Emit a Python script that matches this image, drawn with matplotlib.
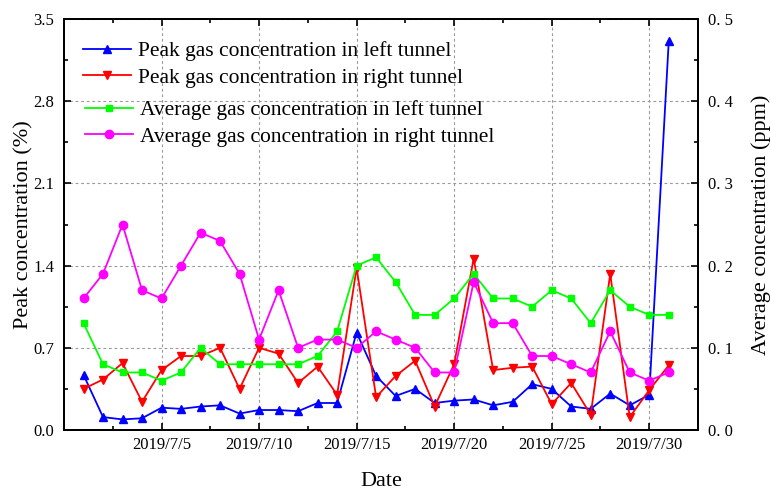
import matplotlib
matplotlib.use("Agg")
import matplotlib.pyplot as plt
import numpy as np
import pandas as pd

dates = pd.date_range("2019-07-01", "2019-07-31", freq="D")

peak_left = [0.47, 0.11, 0.09, 0.10, 0.19, 0.18, 0.20, 0.21, 0.14, 0.17, 0.17, 0.16,
             0.23, 0.23, 0.83, 0.46, 0.29, 0.35, 0.23, 0.25, 0.26, 0.21, 0.24, 0.39,
             0.35, 0.20, 0.18, 0.31, 0.21, 0.30, 3.31]
peak_right = [0.35, 0.43, 0.57, 0.24, 0.51, 0.63, 0.63, 0.70, 0.35, 0.70, 0.65, 0.40,
              0.54, 0.30, 1.38, 0.28, 0.46, 0.59, 0.20, 0.56, 1.46, 0.51, 0.53, 0.54,
              0.22, 0.40, 0.13, 1.33, 0.11, 0.34, 0.55]
avg_left = [0.13, 0.08, 0.07, 0.07, 0.06, 0.07, 0.10, 0.08, 0.08, 0.08, 0.08, 0.08,
            0.09, 0.12, 0.20, 0.21, 0.18, 0.14, 0.14, 0.16, 0.19, 0.16, 0.16, 0.15,
            0.17, 0.16, 0.13, 0.17, 0.15, 0.14, 0.14]
avg_right = [0.16, 0.19, 0.25, 0.17, 0.16, 0.20, 0.24, 0.23, 0.19, 0.11, 0.17, 0.10,
             0.11, 0.11, 0.10, 0.12, 0.11, 0.10, 0.07, 0.07, 0.18, 0.13, 0.13, 0.09,
             0.09, 0.08, 0.07, 0.12, 0.07, 0.06, 0.07]

left_ticks = [0.0, 0.7, 1.4, 2.1, 2.8, 3.5]
right_ticks = [0.0, 0.1, 0.2, 0.3, 0.4, 0.5]
tick_days = [5, 10, 15, 20, 25, 30]

plt.rcParams['font.family'] = ['Liberation Serif', 'DejaVu Serif']

fig = plt.figure(figsize=(7.71, 4.93), dpi=100)
ax = fig.add_axes([64/771, 1-430/493, (698-64)/771, (430-19)/493])
ax2 = ax.twinx()

lw = 1.3
ms = 6
h1, = ax.plot(dates, peak_left, color='#0000FF', marker='^', lw=lw, ms=ms,
              label='Peak gas concentration in left tunnel')
h2, = ax.plot(dates, peak_right, color='#FF0000', marker='v', lw=lw, ms=ms,
              label='Peak gas concentration in right tunnel')
h3, = ax2.plot(dates, avg_left, color='#00FF00', marker='s', lw=lw, ms=ms-1,
               label='Average gas concentration in left tunnel')
h4, = ax2.plot(dates, avg_right, color='#FF00FF', marker='o', lw=lw, ms=ms,
               label='Average gas concentration in right tunnel')

ax.set_ylim(0, 3.5)
ax2.set_ylim(0, 0.5)
ax.set_yticks(left_ticks)
ax.set_yticklabels([f"{v:.1f}" for v in left_ticks])
ax2.set_yticks(right_ticks)
ax2.set_yticklabels([f"{v:.1f}".replace(".", ". ") for v in right_ticks])
ax.set_yticks([v + 0.35 for v in left_ticks[:-1]], minor=True)
ax2.set_yticks([v + 0.05 for v in right_ticks[:-1]], minor=True)

major_dates = [pd.Timestamp(2019, 7, d) for d in tick_days]
ax.set_xticks(major_dates)
ax.set_xticklabels([f"2019/7/{d}" for d in tick_days])
minor_dates = [d - pd.Timedelta(hours=60) for d in major_dates] + [major_dates[-1] + pd.Timedelta(hours=60)]
ax.set_xticks(minor_dates, minor=True)
ax.set_xlim(pd.Timestamp(2019, 6, 30), pd.Timestamp(2019, 8, 1, 12))

ax.grid(True, which='major', color='#999999', linestyle=(0, (2.5, 2.5)), lw=0.8)
ax.set_axisbelow(True)

for a in (ax, ax2):
    a.tick_params(which='both', direction='in', labelsize=12)
    a.tick_params(which='major', length=5, width=1.2, pad=7)
    a.tick_params(which='minor', length=3, width=1.2)
    for s in a.spines.values():
        s.set_linewidth(1.4)
ax.tick_params(which='both', top=True, right=False)
ax.tick_params(axis='x', which='major', pad=5)

ax.set_xlabel('Date', fontsize=16, labelpad=14)
ax.set_ylabel('Peak concentration (%)', fontsize=16, labelpad=0)
ax2.set_ylabel('Average concentration (ppm)', fontsize=16, labelpad=13)

leg_kw = dict(frameon=False, fontsize=15.5, handlelength=2.25, handletextpad=0.3,
              labelspacing=0.3, borderpad=0, borderaxespad=0, loc='upper left')
leg1 = ax2.legend(handles=[h1, h2], bbox_to_anchor=(0.030, 0.946), **leg_kw)
ax2.add_artist(leg1)
leg2 = ax2.legend(handles=[h3, h4], bbox_to_anchor=(0.033, 0.803), **leg_kw)

fig.savefig('out.png', dpi=100)
